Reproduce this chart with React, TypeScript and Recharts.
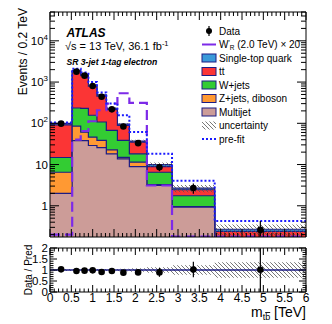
import React from 'react';
import { ComposedChart, Area, Line, Scatter, ErrorBar, XAxis, YAxis, ReferenceLine } from 'recharts';

// m_tb bins [TeV]
const binEdges = [0, 0.52, 0.72, 0.9, 1.1, 1.32, 1.58, 1.86, 2.27, 2.86, 3.86, 6];

// post-fit backgrounds, events / 0.2 TeV
const multijet = [2.0, 38, 38, 29, 25.6, 18.2, 13.8, 8.9, 3.1, 0.93, 0.08];
const zjetsDiboson = [4.5, 47, 23, 17, 13, 4.6, 1.2, 2.5, 0.15, 0.02, 0.005];
const wjets = [8.3, 150, 169, 111, 69, 44.7, 23.5, 6.8, 3.25, 0.8, 0.06];
const ttbar = [77, 1550, 1200, 640, 350, 148, 50.5, 16.8, 2.4, 0.7, 0.095];
const singleTop = [8, 115, 90, 53, 32.4, 14.5, 6, 2, 1.1, 0.22, 0.03];
const bkgUnc = [0.05, 0.05, 0.05, 0.05, 0.05, 0.06, 0.06, 0.08, 0.12, 0.2, 0.3];

const wprimeX20 = [0.2, 40, 65, 112, 207, 300, 535, 312, 3.1, 0.18, 0.18];
const prefit = [105, 2100, 1700, 1000, 560, 302, 157, 61.5, 18.2, 4.07, 0.43];

const dataVals = [98, 1790, 1430, 800, 440, 218, 84, 33, 8.6, 2.7, 0.26];
const dataErrDown = [6, 42, 38, 28, 20, 13, 8, 3.5, 1.7, 0.75, 0.08];
const dataErrUp = [6, 42, 38, 28, 20, 13, 8, 3.5, 1.7, 0.75, 0.17];

const ratioVals = [1.03, 0.955, 0.97, 0.985, 0.91, 0.955, 0.88, 0.89, 0.89, 1.02, 1.01];
const ratioErrDown = [0.05, 0.03, 0.03, 0.04, 0.05, 0.06, 0.1, 0.12, 0.2, 0.35, 1.01];
const ratioErrUp = [0.05, 0.03, 0.03, 0.04, 0.05, 0.06, 0.1, 0.12, 0.2, 0.35, 0.99];
const ratioUnc = [0.04, 0.04, 0.04, 0.04, 0.05, 0.05, 0.06, 0.08, 0.12, 0.22, 0.35];

const xMajorTicks = [0, 0.5, 1, 1.5, 2, 2.5, 3, 3.5, 4, 4.5, 5, 5.5, 6];
const xTickLabels = ['0', '0.5', '1', '1.5', '2', '2.5', '3', '3.5', '4', '4.5', '5', '5.5', '6'];
const ratioMajorTicks = [0, 0.5, 1, 1.5, 2];
const ratioTickLabels = ['0', '0.5', '1', '1.5', '2'];

const legendLabels = ['Data', "W'R (2.0 TeV) × 20", 'Single-top quark', 'tt', 'W+jets', 'Z+jets, diboson', 'Multijet', 'uncertainty', 'pre-fit'];

const Y_MIN = 0.175;
const Y_MAX = 5e4;
const FONT = '"Liberation Sans", Arial, sans-serif';
const NAVY = '#1c1c84';

const C = {
  st: '#3a9ad9',
  tt: '#fb3535',
  wj: '#33cc33',
  zj: '#ff9933',
  mj: '#cc9c98',
  wp: '#7d2ae8',
  pre: '#1a1aff',
};

const nb = multijet.length;
const rows = binEdges.map((x, k) => {
  const i = Math.min(k, nb - 1);
  const mj = multijet[i];
  const zj = mj + zjetsDiboson[i];
  const wj = zj + wjets[i];
  const tt = wj + ttbar[i];
  const tot = tt + singleTop[i];
  return {
    x,
    mj, zj, wj, tt, tot,
    unc: [tot * (1 - bkgUnc[i]), tot * (1 + bkgUnc[i])],
    wp: wprimeX20[i],
    pre: prefit[i],
    rband: [1 - ratioUnc[i], 1 + ratioUnc[i]],
  };
});

const centers = dataVals.map((_, i) => (binEdges[i] + binEdges[i + 1]) / 2);
const dataPts = dataVals.map((y, i) => ({ x: centers[i], y, err: [dataErrDown[i], dataErrUp[i]] }));
const ratioPts = ratioVals.map((y, i) => ({ x: centers[i], y, err: [ratioErrDown[i], ratioErrUp[i]] }));

// axis tick positions
const xTicks: number[] = [];
for (let k = 0; k <= 60; k++) xTicks.push(k / 10);
const logTicks: number[] = [];
for (let e = -1; e <= 4; e++) {
  for (let m = 1; m <= 9; m++) {
    const v = m * Math.pow(10, e);
    if (v >= Y_MIN && v <= Y_MAX) logTicks.push(Number(v.toPrecision(3)));
  }
}
const ratioTicks: number[] = [];
for (let k = 0; k <= 20; k++) ratioTicks.push(k / 10);

const isMajorX = (v: number) => xMajorTicks.some((t) => Math.abs(t - v) < 1e-6);
const isMajorLog = (v: number) => Math.abs(Math.log10(v) - Math.round(Math.log10(v))) < 1e-6;

function XTick(props: any) {
  const { x, y, payload, side, showLabel, majorLen, minorLen } = props;
  const v = payload.value;
  const major = isMajorX(v);
  const len = major ? majorLen : minorLen;
  const dir = side === 'bottom' ? -1 : 1;
  const idx = xMajorTicks.findIndex((t) => Math.abs(t - v) < 1e-6);
  return (
    <g>
      <line x1={x} x2={x} y1={y} y2={y + dir * len} stroke="#000" strokeWidth={1} />
      {showLabel && major && (
        <text x={x} y={y + 10} textAnchor="middle" fontSize={12} fontFamily={FONT} fill="#000">
          {xTickLabels[idx]}
        </text>
      )}
    </g>
  );
}

function LogTick(props: any) {
  const { x, y, payload, side } = props;
  const v = payload.value;
  const major = isMajorLog(v);
  const len = major ? 9 : 5;
  const dir = side === 'left' ? 1 : -1;
  const e = Math.round(Math.log10(v));
  return (
    <g>
      <line x1={x} x2={x + dir * len} y1={y} y2={y} stroke="#000" strokeWidth={1} />
      {side === 'left' && major && (
        <text x={x - 2} y={y + 4} textAnchor="end" fontSize={11.5} fontFamily={FONT} fill="#000">
          {e <= 1 ? String(v) : (
            <>
              10<tspan dy={-5} fontSize={8}>{e}</tspan>
            </>
          )}
        </text>
      )}
    </g>
  );
}

function RatioTick(props: any) {
  const { x, y, payload, side } = props;
  const v = payload.value;
  const idx = ratioMajorTicks.findIndex((t) => Math.abs(t - v) < 1e-6);
  const major = idx >= 0;
  const len = major ? 7 : 3.5;
  const dir = side === 'left' ? 1 : -1;
  return (
    <g>
      <line x1={x} x2={x + dir * len} y1={y} y2={y} stroke="#000" strokeWidth={1} />
      {side === 'left' && major && (
        <text x={x - 2} y={y + 4} textAnchor="end" fontSize={11.5} fontFamily={FONT} fill="#000">
          {ratioTickLabels[idx]}
        </text>
      )}
    </g>
  );
}

const DataDot = (p: any) => <circle cx={p.cx} cy={p.cy} r={3.3} fill="#000" />;

function Hatch({ id }: { id: string }) {
  return (
    <pattern id={id} width={4} height={4} patternUnits="userSpaceOnUse">
      <path d="M0,0 L4,4 M-1,3 L1,5 M3,-1 L5,1" stroke="#555" strokeWidth={0.8} />
    </pattern>
  );
}

function MainPanel() {
  return (
    <ComposedChart width={332} height={241} data={rows} margin={{ top: 11, right: 25, bottom: 3, left: 49 }}>
      <defs>
        <Hatch id="hatchMain" />
      </defs>
      <Area type="stepAfter" dataKey="tot" baseValue={Y_MIN} fill={C.st} fillOpacity={1} stroke={NAVY} strokeWidth={1.2} isAnimationActive={false} />
      <Area type="stepAfter" dataKey="tt" baseValue={Y_MIN} fill={C.tt} fillOpacity={1} stroke={NAVY} strokeWidth={1.2} isAnimationActive={false} />
      <Area type="stepAfter" dataKey="wj" baseValue={Y_MIN} fill={C.wj} fillOpacity={1} stroke={NAVY} strokeWidth={1.2} isAnimationActive={false} />
      <Area type="stepAfter" dataKey="zj" baseValue={Y_MIN} fill={C.zj} fillOpacity={1} stroke={NAVY} strokeWidth={1.2} isAnimationActive={false} />
      <Area type="stepAfter" dataKey="mj" baseValue={Y_MIN} fill={C.mj} fillOpacity={1} stroke={NAVY} strokeWidth={1.2} isAnimationActive={false} />
      <Area type="stepAfter" dataKey="unc" fill="url(#hatchMain)" fillOpacity={1} stroke="none" isAnimationActive={false} />
      <Line type="stepAfter" dataKey="wp" stroke={C.wp} strokeWidth={2.2} strokeDasharray="10 5" dot={false} isAnimationActive={false} />
      <Line type="stepAfter" dataKey="pre" xAxisId="top" yAxisId="right" stroke={C.pre} strokeWidth={2} strokeDasharray="2 2" dot={false} isAnimationActive={false} />
      <Scatter data={dataPts} dataKey="y" shape={DataDot} isAnimationActive={false}>
        <ErrorBar dataKey="err" direction="y" width={0} stroke="#000" strokeWidth={1.2} />
      </Scatter>
      <XAxis type="number" dataKey="x" domain={[0, 6]} allowDataOverflow ticks={xTicks} interval={0} height={1} tickSize={0} tickMargin={0}
        axisLine={{ stroke: '#000' }} tickLine={false}
        tick={(p: any) => <XTick {...p} side="bottom" majorLen={8} minorLen={4} />} />
      <XAxis xAxisId="top" orientation="top" type="number" dataKey="x" domain={[0, 6]} allowDataOverflow ticks={xTicks} interval={0} height={1} tickSize={0} tickMargin={0}
        axisLine={{ stroke: '#000' }} tickLine={false}
        tick={(p: any) => <XTick {...p} side="top" majorLen={8} minorLen={4} />} />
      <YAxis scale="log" domain={[Y_MIN, Y_MAX]} allowDataOverflow ticks={logTicks} interval={0} width={1} tickSize={0} tickMargin={0}
        axisLine={{ stroke: '#000' }} tickLine={false}
        tick={(p: any) => <LogTick {...p} side="left" />} />
      <YAxis yAxisId="right" orientation="right" scale="log" domain={[Y_MIN, Y_MAX]} allowDataOverflow ticks={logTicks} interval={0} width={1} tickSize={0} tickMargin={0}
        axisLine={{ stroke: '#000' }} tickLine={false}
        tick={(p: any) => <LogTick {...p} side="right" />} />
    </ComposedChart>
  );
}

function RatioPanel() {
  return (
    <ComposedChart width={332} height={84} data={rows} margin={{ top: 7, right: 25, bottom: 31, left: 49 }}>
      <defs>
        <Hatch id="hatchRatio" />
      </defs>
      <Area type="stepAfter" dataKey="rband" fill="url(#hatchRatio)" fillOpacity={1} stroke="none" isAnimationActive={false} />
      <ReferenceLine y={1} stroke={NAVY} strokeWidth={1.6} />
      <Line type="stepAfter" dataKey="x" xAxisId="top" yAxisId="right" stroke="none" dot={false} isAnimationActive={false} />
      <Scatter data={ratioPts} dataKey="y" shape={DataDot} isAnimationActive={false}>
        <ErrorBar dataKey="err" direction="y" width={0} stroke="#000" strokeWidth={1.2} />
      </Scatter>
      <XAxis type="number" dataKey="x" domain={[0, 6]} allowDataOverflow ticks={xTicks} interval={0} height={1} tickSize={0} tickMargin={0}
        axisLine={{ stroke: '#000' }} tickLine={false}
        tick={(p: any) => <XTick {...p} side="bottom" showLabel majorLen={7} minorLen={3.5} />} />
      <XAxis xAxisId="top" orientation="top" type="number" dataKey="x" domain={[0, 6]} allowDataOverflow ticks={xTicks} interval={0} height={1} tickSize={0} tickMargin={0}
        axisLine={{ stroke: '#000' }} tickLine={false}
        tick={(p: any) => <XTick {...p} side="top" majorLen={7} minorLen={3.5} />} />
      <YAxis domain={[0, 2]} allowDataOverflow ticks={ratioTicks} interval={0} width={1} tickSize={0} tickMargin={0}
        axisLine={{ stroke: '#000' }} tickLine={false}
        tick={(p: any) => <RatioTick {...p} side="left" />} />
      <YAxis yAxisId="right" orientation="right" domain={[0, 2]} allowDataOverflow ticks={ratioTicks} interval={0} width={1} tickSize={0} tickMargin={0}
        axisLine={{ stroke: '#000' }} tickLine={false}
        tick={(p: any) => <RatioTick {...p} side="right" />} />
    </ComposedChart>
  );
}

function Legend() {
  const y0 = 31;
  const dy = 13.5;
  const swX = 202;
  const txtX = 219;
  const boxColors = [null, null, C.st, C.tt, C.wj, C.zj, C.mj];
  return (
    <g fontFamily={FONT} fontSize={10} fill="#000">
      {legendLabels.map((lab, i) => {
        const cy = y0 + i * dy;
        let sw: React.ReactNode = null;
        if (i === 0) {
          sw = (
            <g>
              <line x1={swX + 7} x2={swX + 7} y1={cy - 5} y2={cy + 5} stroke="#000" strokeWidth={1.2} />
              <circle cx={swX + 7} cy={cy} r={3} fill="#000" />
            </g>
          );
        } else if (i === 1) {
          sw = <line x1={swX} x2={swX + 14} y1={cy} y2={cy} stroke={C.wp} strokeWidth={2} />;
        } else if (i <= 6) {
          sw = <rect x={swX} y={cy - 4} width={14} height={8} fill={boxColors[i] as string} stroke={NAVY} strokeWidth={1} />;
        } else if (i === 7) {
          sw = <rect x={swX} y={cy - 4} width={14} height={8} fill="url(#hatchLeg)" />;
        } else {
          sw = <line x1={swX} x2={swX + 14} y1={cy} y2={cy} stroke={C.pre} strokeWidth={2} strokeDasharray="2 2" />;
        }
        let text: React.ReactNode = lab;
        if (i === 1) {
          text = (
            <>
              W<tspan dy={-3} fontSize={7}>′</tspan><tspan dy={5} fontSize={6.5}>R</tspan><tspan dy={-2}> (2.0 TeV) × 20</tspan>
            </>
          );
        }
        return (
          <g key={i}>
            {sw}
            <text x={txtX} y={cy + 3.6}>{text}</text>
          </g>
        );
      })}
    </g>
  );
}

export default function App() {
  return (
    <div style={{ position: 'absolute', left: 0, top: 0, width: 332, height: 324, background: '#fff', fontFamily: FONT }}>
      <div style={{ position: 'absolute', left: 0, top: 0 }}>
        <MainPanel />
      </div>
      <div style={{ position: 'absolute', left: 0, top: 240 }}>
        <RatioPanel />
      </div>
      <svg width={332} height={324} style={{ position: 'absolute', left: 0, top: 0, pointerEvents: 'none' }}>
        <defs>
          <Hatch id="hatchLeg" />
        </defs>
        <text x={66.5} y={36.6} fontFamily={FONT} fontSize={12} fontWeight="bold" fontStyle="italic">ATLAS</text>
        <text x={65} y={49.6} fontFamily={FONT} fontSize={11}>
          √s = 13 TeV, 36.1 fb<tspan dy={-4} fontSize={7.5}>-1</tspan>
        </text>
        <text x={66.5} y={65.3} fontFamily={FONT} fontSize={8.6} fontWeight="bold" fontStyle="italic">SR 3-jet 1-tag electron</text>
        <Legend />
        <text transform="translate(27.3, 8) rotate(-90)" textAnchor="end" fontFamily={FONT} fontSize={12}>Events / 0.2 TeV</text>
        <text transform="translate(31.6, 270) rotate(-90)" textAnchor="middle" fontFamily={FONT} fontSize={10}>Data / Pred</text>
        <text x={306} y={317} textAnchor="end" fontFamily={FONT} fontSize={14}>
          m<tspan dy={3} fontSize={9}>t</tspan><tspan fontSize={9} textDecoration="overline">b</tspan><tspan dy={-3}> [TeV]</tspan>
        </text>
      </svg>
    </div>
  );
}
